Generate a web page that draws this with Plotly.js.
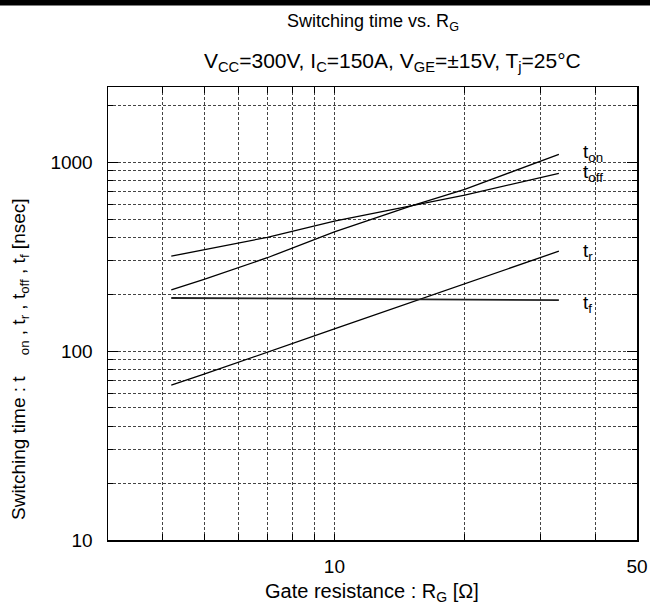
<!DOCTYPE html>
<html>
<head>
<meta charset="utf-8">
<script src="https://cdn.plot.ly/plotly-3.0.1.min.js"></script>
<style>
  html, body { margin: 0; padding: 0; background: #fff; }
  #chart { width: 650px; height: 604px; }
</style>
</head>
<body>
<div id="chart"></div>
<script>
// Gate resistance R_G [ohm] and switching times [nsec]
const rgOn  = [4.2, 5, 7, 10, 15, 20, 33];
const tOn   = [211, 240, 312, 428, 585, 718, 1100];
const rgOff = [4.2, 5, 7, 10, 15, 20, 33];
const tOff  = [318, 343, 400, 488, 590, 670, 873];
const rgR   = [4.2, 5, 10, 20, 33];
const tR    = [66, 75.5, 131, 227, 338];
const rgF   = [4.2, 7, 10, 15, 20, 33];
const tF    = [191, 190, 190, 189, 187, 186];

const seriesNames = ['t<sub>on</sub>', 't<sub>off</sub>', 't<sub>r</sub>', 't<sub>f</sub>'];
const xTickVals = [10, 50];
const xTickText = ['10', '50'];
const yTickVals = [10, 100, 1000];
const yTickText = ['10', '100', '1000'];

const FONT = 'Liberation Sans, Arial, Helvetica, sans-serif';
const FS = 19;
const W = 650, H = 604, ML = 108, MR = 13, MT = 87, MB = 64;
const PW = W - ML - MR, PH = H - MT - MB;
const px2py = p => (MT + PH - p) / PH;   // pixel row -> paper y
const px2px = p => (p - ML) / PW;        // pixel col -> paper x
const line = (w, c) => ({ color: c || '#000', width: w });

const traces = [
  { x: rgOn,  y: tOn,  mode: 'lines', line: line(1.3), name: 'ton' },
  { x: rgOff, y: tOff, mode: 'lines', line: line(1.3), name: 'toff' },
  { x: rgR,   y: tR,   mode: 'lines', line: line(1.3), name: 'tr' },
  { x: rgF,   y: tF,   mode: 'lines', line: line(1.8, '#222'), name: 'tf' }
].map(t => Object.assign(t, { showlegend: false, hoverinfo: 'skip' }));

const gridStyle = { gridcolor: '#444', griddash: '3px,2px', gridwidth: 1 };
const lab = (txt, ly) => ({ text: txt, xref: 'x', x: 1.572, yref: 'y', y: ly, xanchor: 'left', yanchor: 'middle',
  showarrow: false, font: { family: FONT, size: FS }, borderpad: 0 });
const NB = '\u00a0';

const layout = {
  width: W, height: H,
  margin: { l: ML, r: MR, t: MT, b: MB },
  paper_bgcolor: '#fff', plot_bgcolor: '#fff',
  font: { family: FONT, size: FS, color: '#000' },
  title: {
    text: 'Switching time vs. R<sub>G</sub>',
    xref: 'paper', x: px2px(373), xanchor: 'center',
    yref: 'container', y: 1 - 21 / H, yanchor: 'middle',
    font: { family: FONT, size: 18, color: '#000' }
  },
  xaxis: Object.assign({
    type: 'log', range: [Math.log10(3), Math.log10(50)],
    tickvals: xTickVals, ticktext: xTickText,
    ticks: 'inside', ticklen: 6, tickcolor: '#000', tickwidth: 1,
    showline: true, linecolor: '#000', linewidth: 1.5, mirror: 'ticks',
    showgrid: true, zeroline: false,
    ticklabelstandoff: 9,
    tickfont: { family: FONT, size: FS },
    minor: Object.assign({ dtick: 'D1', ticks: 'inside', ticklen: 6, tickcolor: '#000', showgrid: true }, gridStyle)
  }, gridStyle),
  yaxis: Object.assign({
    type: 'log', range: [1, Math.log10(2500)],
    tickvals: yTickVals, ticktext: yTickText,
    ticks: 'inside', ticklen: 10, tickcolor: '#000', tickwidth: 1,
    showline: true, linecolor: '#000', linewidth: 1.5, mirror: 'ticks',
    showgrid: true, zeroline: false,
    ticklabelstandoff: 10,
    tickfont: { family: FONT, size: FS },
    minor: Object.assign({ dtick: 'D1', ticks: 'inside', ticklen: 5, tickcolor: '#000', showgrid: true }, gridStyle)
  }, gridStyle),
  shapes: [
    { type: 'line', xref: 'paper', yref: 'paper', layer: 'above',
      x0: px2px(0), x1: px2px(W), y0: px2py(2.5), y1: px2py(2.5),
      line: { color: '#000', width: 6 } }
  ],
  annotations: [
    { text: 'V<sub>CC</sub>=300V, I<sub>C</sub>=150A, V<sub>GE</sub>=±15V, T<sub>j</sub>=25°C',
      xref: 'paper', x: px2px(392), xanchor: 'center', yref: 'paper', y: px2py(62), yanchor: 'middle',
      showarrow: false, font: { family: FONT, size: 21 } },
    { text: 'Gate resistance : R<sub>G</sub> [Ω]',
      xref: 'paper', x: px2px(372), xanchor: 'center', yref: 'paper', y: px2py(592), yanchor: 'middle',
      showarrow: false, font: { family: FONT, size: 20 } },
    { text: 'Switching time : t' + NB + NB + NB + NB + '<sub>on</sub> , t<sub>r</sub> , t<sub>off</sub> , t<sub>f</sub> [nsec]',
      textangle: -90,
      xref: 'paper', x: px2px(20), xanchor: 'center', yref: 'paper', y: px2py(359), yanchor: 'middle',
      showarrow: false, font: { family: FONT, size: FS } },
    lab(seriesNames[0], 3.051),
    lab(seriesNames[1], 2.945),
    lab(seriesNames[2], 2.526),
    lab(seriesNames[3], 2.251)
  ]
};

Plotly.newPlot('chart', traces, layout, { displayModeBar: false, staticPlot: true });
</script>
</body>
</html>
